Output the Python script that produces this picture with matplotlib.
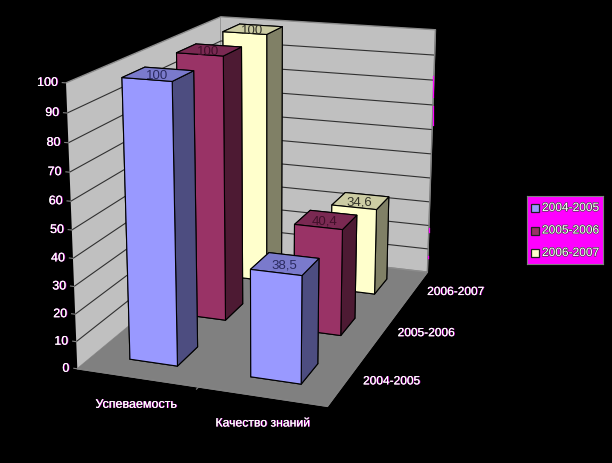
import matplotlib
matplotlib.use("Agg")
import matplotlib.pyplot as plt
import matplotlib.patheffects as pe
from matplotlib.lines import Line2D
from matplotlib.patches import Rectangle
from mpl_toolkits.mplot3d import proj3d

plt.rcParams["font.family"] = ["Liberation Sans", "DejaVu Sans"]

categories = ["Успеваемость", "Качество знаний"]
years = ["2004-2005", "2005-2006", "2006-2007"]
uspevaemost = [100, 100, 100]
kachestvo = [38.5, 40.4, 34.6]
value_labels = [["100", "100", "100"], ["38,5", "40,4", "34,6"]]
z_ticks = [0, 10, 20, 30, 40, 50, 60, 70, 80, 90, 100]

# front, top, side face colours for each year
front_colors = ["#9999ff", "#993366", "#ffffcc"]
top_colors = ["#7a7acc", "#7a2952", "#cccca3"]
side_colors = ["#4d4d80", "#4d1a33", "#808066"]
label_colors = ["#2a2a60", "#40102a", "#33332a"]

BAR_W = 0.4
BAR_D = 0.4

W, H = 612, 464
fig = plt.figure(figsize=(W / 100, H / 100), dpi=100, facecolor="black")

# camera fitted against the corners of the reference box
size = 508.7
ax = fig.add_axes([6.53 / W, 13.24 / H, size / W, size / H], projection="3d")
ax.set_facecolor("black")
ax.view_init(16.282, -70.378, -0.029)
ax.set_proj_type("persp", focal_length=0.5236)
ax.set_box_aspect((0.8978, 1.3693, 1))
ax.set_xlim(0, 2, view_margin=0)
ax.set_ylim(0, 3, view_margin=0)
ax.set_zlim(0, 100, view_margin=0)
ax.computed_zorder = False

# walls and floor
ax.xaxis.pane.set_facecolor("#c0c0c0")
ax.yaxis.pane.set_facecolor("#c0c0c0")
ax.zaxis.pane.set_facecolor("#808080")
for axis in (ax.xaxis, ax.yaxis, ax.zaxis):
    axis.pane.set_edgecolor("#8c8c8c")
    axis.pane.set_alpha(1)
    axis.line.set_color("#808080")
    axis.line.set_linewidth(0.8)
    axis._axinfo["tick"]["inward_factor"] = 0
    axis._axinfo["tick"]["outward_factor"] = 0

ax.set_xticks([])
ax.set_yticks([])
ax.set_zticks(z_ticks[1:-1])
ax.set_zticklabels([])
ax.zaxis._axinfo["grid"].update(color="#303030", linewidth=0.8, linestyle="-")

fringe = [pe.withSimplePatchShadow(offset=(0.6, 0), shadow_rgbFace="#ff00ff", alpha=0.7), pe.Normal()]


def label3d(x, y, z, text, dx=0, dy=0, **kw):
    # project a box position to the axes' 2d plane, then shift by pixels
    px, py, _ = proj3d.proj_transform(x, y, z, ax.get_proj())
    return ax.annotate(text, (px, py), xytext=(dx, dy), textcoords="offset pixels", annotation_clip=False, **kw)


# bars, back row first
series = [uspevaemost, kachestvo]
z_order = 10
for yi in [2, 1, 0]:
    for xi in [0, 1]:
        val = series[xi][yi]
        x0 = xi + 0.5 - BAR_W / 2
        y0 = yi + 0.5 - BAR_D / 2
        # bar3d face order is -z, +z, -y, +y, -x, +x
        faces = [side_colors[yi], top_colors[yi], front_colors[yi], side_colors[yi], side_colors[yi], side_colors[yi]]
        bar = ax.bar3d(x0, y0, 0, BAR_W, BAR_D, val, color=faces, edgecolor="black", linewidth=0.8, shade=False)
        bar.set_zorder(z_order)
        label3d(xi + 0.5, yi + 0.5, val, value_labels[xi][yi], dx=-1, dy=-1, color=label_colors[yi], fontsize=9.5,
                ha="center", va="center", zorder=z_order + 1)
        z_order += 2

# value axis
for z in z_ticks:
    ax.plot([-0.03, 0], [0, 0], [z, z], color="#808080", lw=0.8, zorder=5)
    label3d(0, 0, z, str(z), dx=-8, color="white", fontsize=9, ha="right", va="center", path_effects=fringe)

# category and series names round the floor
cat_sizes = [9, 8.8]
for i, name in enumerate(categories):
    label3d(i + 0.5, 0, 0, name, dx=-1 + 2 * i, dy=-27, color="white", fontsize=cat_sizes[i], ha="center", va="center",
            path_effects=fringe)
ax.plot([1, 1], [0, -0.04], [0, 0], color="#808080", lw=0.8, zorder=5)
for i, name in enumerate(years):
    label3d(2.12, i + 0.5, 0, name, color="white", fontsize=8.6, ha="left", va="center", path_effects=fringe)

# legend box
leg_ax = fig.add_axes([527 / W, 1 - 265 / H, 76 / W, 68 / H])
leg_ax.set_xlim(0, 76)
leg_ax.set_ylim(68, 0)
leg_ax.set_xticks([])
leg_ax.set_yticks([])
leg_ax.set_facecolor("#ff00ff")
for spine in leg_ax.spines.values():
    spine.set_color("#808080")
for i, (c, name) in enumerate(zip(front_colors, years)):
    row = 12 + 22.5 * i
    leg_ax.add_patch(Rectangle((4, row - 4), 8, 8, facecolor=c, edgecolor="#202020", lw=0.9))
    leg_ax.text(15, row, name, color="white", fontsize=8.6, va="center", ha="left",
                path_effects=[pe.withStroke(linewidth=0.9, foreground="#404040")])

# stray magenta pixels on the right wall edge
for x, y0, y1 in [(433, 77, 98), (433, 107, 126), (429, 229, 233), (428, 257, 259)]:
    fig.add_artist(Line2D([x / W, x / W], [1 - y0 / H, 1 - y1 / H], color="#ff00ff", lw=0.9))

fig.savefig("out.png", dpi=100, facecolor="black")
